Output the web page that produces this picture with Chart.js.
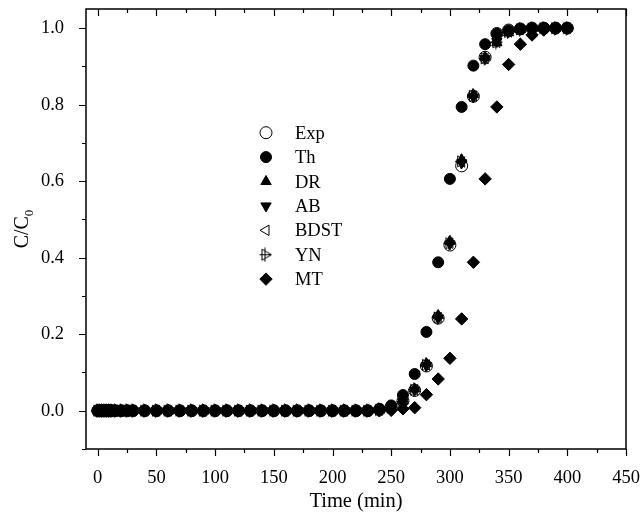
<!DOCTYPE html>
<html><head><meta charset="utf-8">
<script src="https://cdn.jsdelivr.net/npm/chart.js@4.4.1/dist/chart.umd.min.js"></script>
<style>html,body{margin:0;padding:0;background:#fff}</style>
</head><body>
<canvas id="c" width="642" height="521" style="display:block;width:642px;height:521px"></canvas>
<script>
// ---- data ----
const times = [0,2,4,6,8,10,12,15,20,25,30,
  40,50,60,70,80,90,100,110,120,130,140,150,160,170,180,190,200,210,220,230,
  240,250,260,270,280,290,300,310,320,330,340,350,360,370,380,390,400];
const seriesNames = ["Exp","Th","DR","AB","BDST","YN","MT"];
const expVals  = [0,0,0,0,0,0,0,0,0,0,0, 0,0,0,0,0,0,0,0,0,0,0,0,0,0,0,0,0,0,0,0,
  0.003,0.010,0.026,0.053,0.117,0.242,0.433,0.640,0.822,0.924,0.986,0.995,0.998,1.0,1.0,1.0,1.0];
const thVals   = [0,0,0,0,0,0,0,0,0,0,0, 0,0,0,0,0,0,0,0,0,0,0,0,0,0,0,0,0,0,0,0,
  0.005,0.014,0.041,0.096,0.206,0.388,0.606,0.794,0.902,0.958,0.985,0.994,0.998,0.999,1.0,1.0,1.0];
const drVals   = [0,0,0,0,0,0,0,0,0,0,0, 0,0,0,0,0,0,0,0,0,0,0,0,0,0,0,0,0,0,0,0,
  0.002,0.008,0.025,0.057,0.123,0.249,0.443,0.656,0.826,0.924,0.962,0.988,0.996,0.999,1.0,1.0,1.0];
const abVals   = [0,0,0,0,0,0,0,0,0,0,0, 0,0,0,0,0,0,0,0,0,0,0,0,0,0,0,0,0,0,0,0,
  0.002,0.008,0.023,0.054,0.118,0.242,0.436,0.648,0.820,0.920,0.965,0.990,0.997,0.999,1.0,1.0,1.0];
const bdstVals = [0,0,0,0,0,0,0,0,0,0,0, 0,0,0,0,0,0,0,0,0,0,0,0,0,0,0,0,0,0,0,0,
  0.002,0.008,0.024,0.055,0.120,0.244,0.438,0.650,0.822,0.920,0.963,0.990,0.997,0.999,1.0,1.0,1.0];
const ynVals   = [0,0,0,0,0,0,0,0,0,0,0, 0,0,0,0,0,0,0,0,0,0,0,0,0,0,0,0,0,0,0,0,
  0.002,0.008,0.024,0.055,0.120,0.244,0.438,0.652,0.823,0.921,0.963,0.990,0.997,0.999,1.0,1.0,1.0];
const mtVals   = [0,0,0,0,0,0,0,0,0,0,0, 0,0,0,0,0,0,0,0,0,0,0,0,0,0,0,0,0,0,0,0,
  0.000,0.001,0.005,0.008,0.042,0.083,0.137,0.240,0.388,0.606,0.794,0.905,0.958,0.982,0.995,0.999,1.0];
const xTickLabels = ["0","50","100","150","200","250","300","350","400","450"];
const yTickLabels = ["0.0","0.2","0.4","0.6","0.8","1.0"];
const xTitle = "Time (min)";
const yTitleMain = "C/C", yTitleSub = "0";

// ---- styling ----
const FONT = "'Liberation Serif','Times New Roman',serif";
function ynCanvas(){
  const c = document.createElement('canvas'); c.width = 15; c.height = 15;
  const g = c.getContext('2d'); g.strokeStyle = '#000'; g.lineWidth = 1;
  g.beginPath(); g.moveTo(3.5,2); g.lineTo(3.5,13); g.lineTo(13,7.5); g.closePath(); g.stroke();
  g.beginPath(); g.moveTo(6.5,0.5); g.lineTo(6.5,14.5); g.moveTo(1,7.5); g.lineTo(13,7.5); g.stroke();
  return c;
}
const styles = [
  {pointStyle:'circle', radius:6, bg:'rgba(0,0,0,0)', rot:0},
  {pointStyle:'circle', radius:5.5, bg:'#000', rot:0},
  {pointStyle:'triangle', radius:6, bg:'#000', rot:0},
  {pointStyle:'triangle', radius:6, bg:'#000', rot:180},
  {pointStyle:'triangle', radius:6, bg:'rgba(0,0,0,0)', rot:-90},
  {pointStyle:ynCanvas(), radius:7, bg:'rgba(0,0,0,0)', rot:0},
  {pointStyle:'rectRot', radius:6.2, bg:'#000', rot:0}
];
const allVals = [expVals, thVals, drVals, abVals, bdstVals, ynVals, mtVals];
const datasets = seriesNames.map((n,i)=>({
  label:n,
  data: times.map((t,k)=>({x:t, y:allVals[i][k]})),
  pointStyle: styles[i].pointStyle,
  pointRadius: styles[i].radius,
  pointRotation: styles[i].rot,
  pointBackgroundColor: styles[i].bg,
  pointBorderColor:'#000',
  pointBorderWidth:1,
  showLine:false,
  order: i===0 ? 0 : i+1
}));

const frame = {
  id:'frame',
  afterDraw(chart){
    const ctx = chart.ctx, a = chart.chartArea;
    const xs = chart.scales.x, ys = chart.scales.y;
    ctx.save();
    ctx.strokeStyle = '#000'; ctx.lineWidth = 1.5;
    ctx.strokeRect(a.left, a.top, a.right - a.left, a.bottom - a.top);
    ctx.lineWidth = 1.2;
    ctx.beginPath();
    const xt = xs.ticks.map(t=>t.value);
    const step = xt[1]-xt[0];
    xt.forEach(v=>{
      [[v,7],[v+step/2,4]].forEach(([val,len])=>{
        if (val > xs.max + 1e-9) return;
        const px = Math.round(xs.getPixelForValue(val))+0.5;
        ctx.moveTo(px, a.bottom); ctx.lineTo(px, a.bottom + len);
        ctx.moveTo(px, a.top); ctx.lineTo(px, a.top + len);
      });
    });
    const yt = ys.ticks.map(t=>t.value);
    const ystep = yt[1]-yt[0];
    [[yt[0]-ystep/2,4]].concat(yt.flatMap(v=>[[v,7],[v+ystep/2,4]])).forEach(([val,len])=>{
      if (val > ys.max + 1e-9 || val < ys.min - 1e-9) return;
      const py = Math.round(ys.getPixelForValue(val))+0.5;
      ctx.moveTo(a.left, py); ctx.lineTo(a.left - len, py);
    });
    ctx.stroke();
    // titles
    ctx.fillStyle = '#000';
    ctx.font = "20.5px " + FONT;
    ctx.textAlign = 'center'; ctx.textBaseline = 'alphabetic';
    ctx.fillText(xTitle, (a.left + a.right)/2, 507);
    ctx.save();
    ctx.translate(28, (a.top + a.bottom)/2);
    ctx.rotate(-Math.PI/2);
    ctx.textAlign = 'left';
    ctx.font = "20px " + FONT;
    const w1 = ctx.measureText(yTitleMain).width;
    ctx.font = "13px " + FONT;
    const w2 = ctx.measureText(yTitleSub).width;
    const x0 = -(w1+w2)/2;
    ctx.font = "20px " + FONT;
    ctx.fillText(yTitleMain, x0, 0);
    ctx.font = "13px " + FONT;
    ctx.fillText(yTitleSub, x0 + w1, 4.5);
    ctx.restore();
    // legend
    ctx.font = "18.5px " + FONT;
    ctx.textAlign = 'left';
    chart.data.datasets.forEach((ds,i)=>{
      const y = 132.7 + i*24.4;
      ctx.fillStyle = ds.pointBackgroundColor;
      ctx.strokeStyle = '#000';
      ctx.lineWidth = 1;
      Chart.helpers.drawPoint(ctx, {
        pointStyle: ds.pointStyle, rotation: ds.pointRotation,
        radius: ds.pointRadius, borderWidth: 1
      }, 266, y);
      ctx.fillStyle = '#000';
      ctx.fillText(ds.label, 295, y + 6);
    });
    ctx.restore();
  }
};

new Chart(document.getElementById('c'), {
  type:'scatter',
  data:{datasets},
  options:{
    responsive:false, animation:false, devicePixelRatio:1,
    layout:{padding:{top:9, right:16, left:0, bottom:0}},
    plugins:{legend:{display:false}, tooltip:{enabled:false}},
    scales:{
      x:{
        type:'linear', min:-10, max:450,
        grid:{display:false}, border:{display:false},
        ticks:{stepSize:50, includeBounds:false, color:'#000', padding:10,
          font:{family:FONT, size:18.5},
          callback:(v)=>{ const i = Math.round(v/50); return (v>=0 && Math.abs(v-i*50)<1e-6) ? xTickLabels[i] : ''; }},
        afterFit:(s)=>{ s.height = 72; s.paddingLeft = 0; s.paddingRight = 0; s.paddingTop = 0; s.paddingBottom = 0; }
      },
      y:{
        type:'linear', min:-0.1, max:1.05,
        grid:{display:false}, border:{display:false},
        ticks:{stepSize:0.2, includeBounds:false, color:'#000', padding:14,
          font:{family:FONT, size:18.5},
          callback:(v)=>{ const i = Math.round(v/0.2); return (v>=-1e-9 && Math.abs(v-i*0.2)<1e-6) ? yTickLabels[i] : ''; }},
        afterFit:(s)=>{ s.width = 86; s.paddingTop = 0; s.paddingBottom = 0; s.paddingLeft = 0; s.paddingRight = 0; }
      }
    }
  },
  plugins:[frame]
});
</script>
</body></html>
